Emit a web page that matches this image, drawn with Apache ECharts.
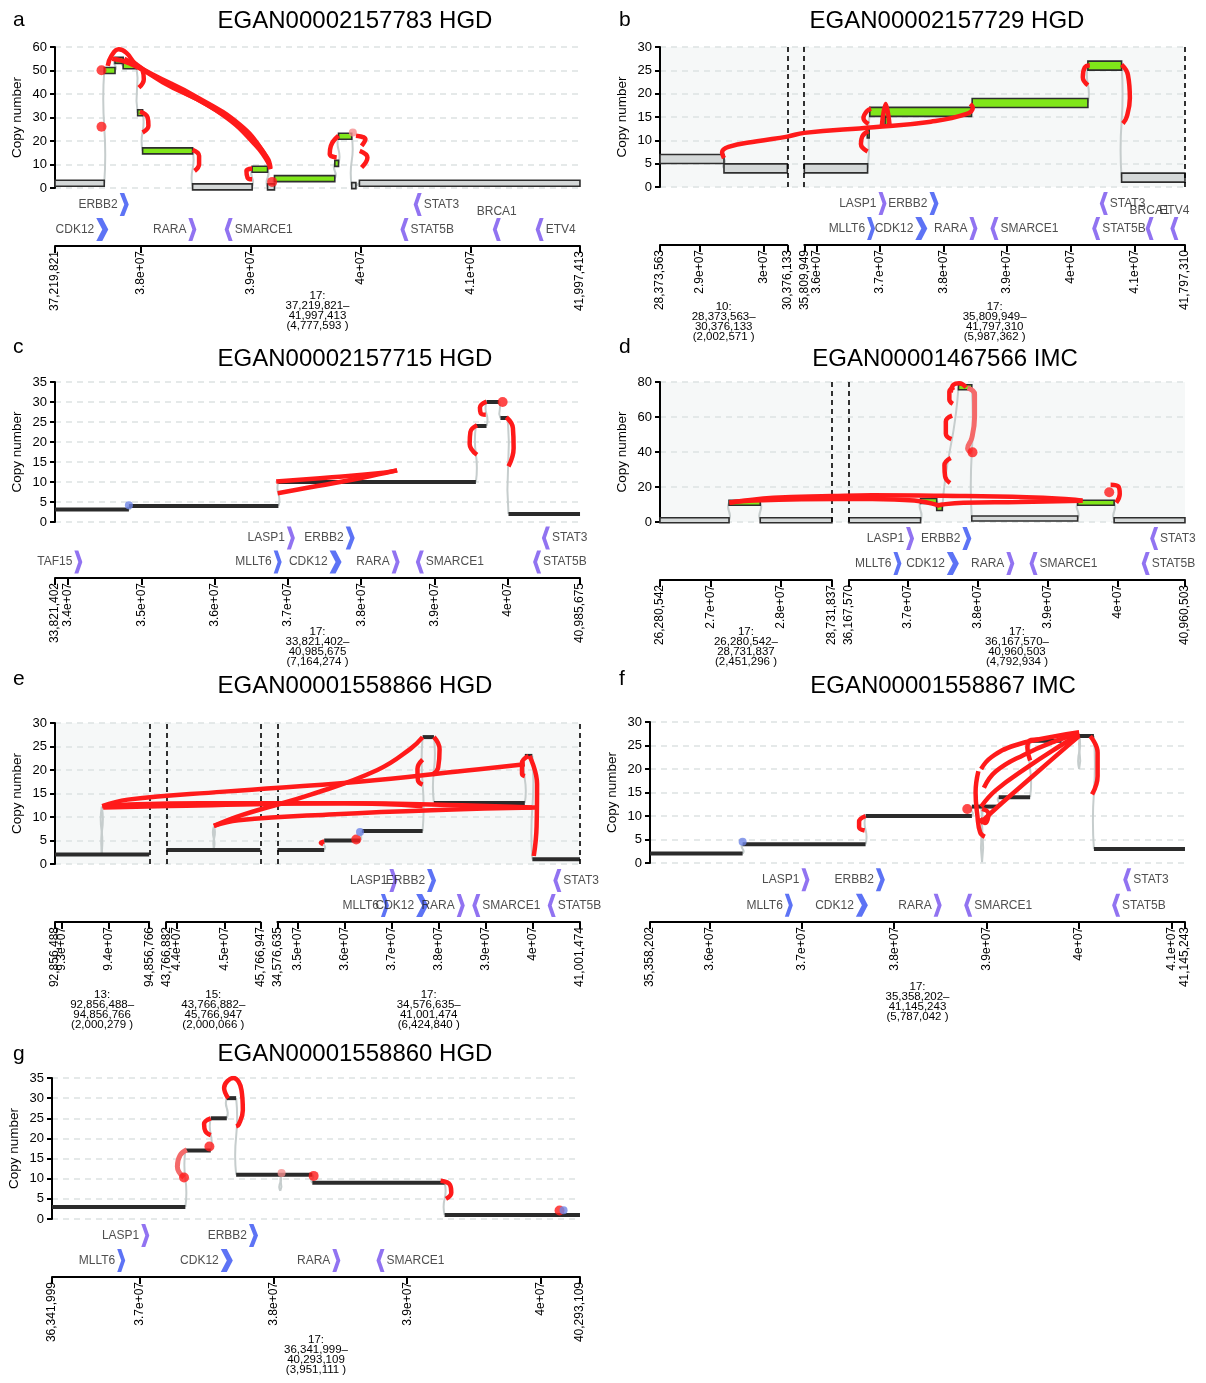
<!DOCTYPE html>
<html>
<head>
<meta charset="utf-8">
<script src="https://cdn.jsdelivr.net/npm/echarts@6/dist/echarts.min.js"></script>
<style>html,body{margin:0;background:#fff}#chart{width:1206px;height:1383px}</style>
</head>
<body>
<div id="chart"></div>
<script>
// genes on chr17 (Mb), strand and track row
const geneNames  = ['TAF15', 'MLLT6', 'LASP1', 'CDK12', 'ERBB2', 'RARA', 'SMARCE1', 'STAT5B', 'STAT3', 'BRCA1', 'ETV4'];
const geneMb     = [34.14, 36.86, 37.04, 37.65, 37.85, 38.47, 38.80, 40.40, 40.52, 41.24, 41.63];
const geneStrand = ['+', '+', '+', '+', '+', '+', '-', '-', '-', '-', '-'];
const geneRow    = [0, 0, 1, 0, 1, 0, 0, 0, 1, 0, 0];

// ---- a ----
const aRegions = [['17', 37219821, 41997413]];
const aTicks = [[37219821, 38e6, 39e6, 40e6, 41e6, 41997413]];
const aSegs = [[37.22, 37.668, 2], [37.668, 37.766, 50], [37.766, 37.84, 54.3], [37.84, 37.96, 52], [37.972, 38.017, 32],
  [38.017, 38.472, 15.8], [38.472, 39.014, 0.5], [39.014, 39.154, 8], [39.154, 39.217, 0.5], [39.217, 39.766, 4],
  [39.766, 39.80, 10.5], [39.80, 39.92, 22], [39.92, 39.958, 1], [39.99, 41.997, 2]];
const aSvs = [
  [[37.70, 52], [37.73, 56], [37.80, 59], [37.87, 57.5], [37.95, 53], [38.2, 45], [38.6, 35.5], [38.95, 24], [39.15, 13], [39.18, 8.5]],
  [[37.74, 55], [37.9, 53], [38.3, 43], [38.75, 31], [39.05, 18], [39.17, 10]],
  [[37.85, 55], [38.1, 48.5], [38.5, 39], [38.9, 27], [39.12, 15], [39.18, 8]],
  [[37.965, 52], [38.017, 50], [38.028, 46.3], [37.983, 42.7]],
  [[37.993, 32.5], [38.063, 30], [38.07, 26.5], [38.017, 23.6]],
  [[38.472, 16.2], [38.531, 13.7], [38.531, 10.1], [38.49, 7.3]],
  [[39.014, 8.3], [38.962, 7.3], [38.972, 4.4], [39.014, 3.7]],
  [[39.80, 22.2], [39.73, 17.9], [39.72, 14.4], [39.783, 13]],
  [[39.958, 22.2], [40.045, 20.8], [40.01, 17.9]],
  [[39.993, 15.8], [40.063, 13], [40.01, 8.7]]];
const aDots = [[37.643, 50.1], [37.643, 26.1], [39.196, 2.6]];
const aPinks = [[39.93, 23.6]];
const aGenes = ['ERBB2', 'STAT3', 'CDK12', 'RARA', 'SMARCE1', 'STAT5B', 'BRCA1', 'ETV4'];
const aTopLabels = ['BRCA1'];

// ---- b ----
const bRegions = [['10', 28373563, 30376133], ['17', 35809949, 41797310]];
const bTicks = [[28373563, 29e6, 30e6, 30376133], [35809949, 36e6, 37e6, 38e6, 39e6, 40e6, 41e6, 41797310]];
const bSegs = [[0, 28.374, 29.38, 6], [0, 29.38, 30.376, 4], [1, 35.81, 36.805, 4], [1, 36.84, 38.44, 16.1],
  [1, 38.45, 40.27, 18], [1, 40.27, 40.80, 26], [1, 40.80, 41.797, 2], [1, 37.08, 37.12, 14], [1, 36.80, 36.83, 11.5]];
const bSvs = [
  [[0, 29.38, 6.2], [0, 29.35, 7.4], [0, 29.45, 8.6], [0, 29.9, 9.8], [0, 30.376, 10.8], [1, 35.81, 11.6], [1, 36.9, 12.8], [1, 37.8, 14.0], [1, 38.35, 15.6], [1, 38.46, 17.0], [1, 38.42, 17.8]],
  [[1, 36.805, 7.6], [1, 36.70, 9.2], [1, 36.72, 10.8], [1, 36.82, 12.0]],
  [[1, 36.82, 13.5], [1, 36.74, 14.8], [1, 36.79, 16.2], [1, 36.86, 16.8]],
  [[1, 37.03, 13.2], [1, 37.09, 17.8], [1, 37.15, 13.4]],
  [[1, 40.80, 26.2], [1, 40.90, 24], [1, 40.93, 19], [1, 40.88, 15], [1, 40.82, 13.6]],
  [[1, 40.27, 21.8], [1, 40.19, 23.5], [1, 40.22, 25.6], [1, 40.30, 26.1]]];
const bGenes = ['LASP1', 'ERBB2', 'STAT3', 'MLLT6', 'CDK12', 'RARA', 'SMARCE1', 'STAT5B', 'BRCA1', 'ETV4'];
const bTopLabels = ['BRCA1', 'ETV4'];

// ---- c ----
const cRegions = [['17', 33821402, 40985675]];
const cTicks = [[33821402, 34e6, 35e6, 36e6, 37e6, 38e6, 39e6, 40e6, 40985675]];
const cSegs = [[33.82, 34.83, 3.1], [34.83, 36.87, 4], [36.87, 39.565, 10], [39.565, 39.71, 24], [39.71, 39.88, 30],
  [39.9, 40.0, 26], [40.01, 40.986, 2]];
const cSvs = [
  [[36.84, 10.1], [37.6, 11.2], [38.2, 12.1], [38.49, 12.9]],
  [[38.49, 12.9], [38.0, 11.0], [37.4, 9.0], [36.86, 7.2]],
  [[39.58, 24.2], [39.49, 22.5], [39.48, 19.5], [39.58, 16.8]],
  [[39.71, 30.1], [39.62, 28.6], [39.63, 27.2], [39.70, 26.8]],
  [[39.98, 26.2], [40.07, 23.5], [40.08, 18.5], [40.01, 13.9]]];
const cDots = [[39.93, 30]];
const cBlues = [[34.83, 4.2]];
const cGenes = ['LASP1', 'ERBB2', 'STAT3', 'TAF15', 'MLLT6', 'CDK12', 'RARA', 'SMARCE1', 'STAT5B'];

// ---- d ----
const dRegions = [['17', 26280542, 28731837], ['17', 36167570, 40960503]];
const dTicks = [[26280542, 27e6, 28e6, 28731837], [36167570, 37e6, 38e6, 39e6, 40e6, 40960503]];
const dSegs = [[0, 26.28, 27.265, 1], [0, 27.265, 27.71, 11], [0, 27.71, 28.732, 1], [1, 36.168, 37.19, 1],
  [1, 37.19, 37.42, 12], [1, 37.42, 37.5, 8], [1, 37.73, 37.92, 77], [1, 37.92, 39.43, 2], [1, 39.43, 39.95, 11],
  [1, 39.95, 40.96, 1]];
const dSvs = [
  [[0, 27.27, 11], [0, 27.9, 13.8], [0, 28.73, 14.8], [1, 36.5, 15.3], [1, 37.5, 15.0], [1, 38.7, 14.2], [1, 39.3, 13.0], [1, 39.5, 12.2]],
  [[1, 39.5, 12.2], [1, 38.6, 11.4], [1, 37.8, 11.0], [1, 37.5, 10.0], [1, 37.42, 9.2]],
  [[1, 37.45, 9.5], [1, 37.1, 12.3], [1, 36.5, 13.2], [0, 28.3, 13.0], [0, 27.5, 12.0], [0, 27.27, 11.2]],
  [[1, 37.67, 77], [1, 37.60, 74.5], [1, 37.60, 70], [1, 37.65, 67.5]],
  [[1, 37.62, 74], [1, 37.66, 78.5], [1, 37.74, 79.3], [1, 37.84, 77]],
  [[1, 37.64, 60.8], [1, 37.55, 57.5], [1, 37.55, 50.5], [1, 37.63, 47.4]],
  [[1, 37.62, 36.6], [1, 37.53, 32.5], [1, 37.54, 26], [1, 37.61, 22.3]],
  [[1, 39.90, 21.3], [1, 40.01, 20.3], [1, 40.03, 16], [1, 39.98, 11]]];
const dSoft = [[[1, 37.86, 76.6], [1, 37.96, 73], [1, 37.96, 60], [1, 37.92, 48], [1, 37.86, 42], [1, 37.92, 39.8]]];
const dDots = [[1, 37.93, 39.8], [1, 39.88, 17]];
const dGenes = ['LASP1', 'ERBB2', 'STAT3', 'MLLT6', 'CDK12', 'RARA', 'SMARCE1', 'STAT5B'];

// ---- e ----
const eRegions = [['13', 92856488, 94856766], ['15', 43766882, 45766947], ['17', 34576635, 41001474]];
const eTicks = [[92856488, 93e6, 94e6, 94856766], [43766882, 44e6, 45e6, 45766947], [34576635, 35e6, 36e6, 37e6, 38e6, 39e6, 40e6, 41001474]];
const eSegs = [[0, 92.856, 94.857, 2], [1, 43.767, 45.767, 3], [2, 34.577, 35.57, 3], [2, 35.57, 36.33, 5],
  [2, 36.37, 37.66, 7], [2, 37.66, 37.9, 27], [2, 37.9, 39.83, 13], [2, 39.83, 39.99, 23], [2, 39.99, 41.001, 1]];
const eLinks = [[0, 93.84, 2, 93.85, 12.2], [0, 93.85, 12.2, 93.86, 2], [1, 44.77, 3, 44.78, 8], [1, 44.78, 8, 44.79, 3]];
const eSvs = [
  [[0, 93.86, 12.3], [0, 94.6, 12.7], [1, 44.5, 12.9], [2, 36.0, 12.9], [2, 38.5, 12.5], [2, 39.98, 12.0]],
  [[0, 93.86, 12.3], [0, 94.4, 13.7], [1, 45.0, 15.4], [2, 36.3, 17.5], [2, 38.6, 19.9], [2, 39.83, 21.2]],
  [[0, 93.88, 12.0], [1, 44.2, 12.4], [2, 36.0, 12.9], [2, 37.66, 12.3]],
  [[1, 44.78, 8.1], [1, 45.4, 10.5], [2, 35.3, 14.8], [2, 36.7, 20.0], [2, 37.4, 24.5], [2, 37.66, 27.0]],
  [[1, 44.78, 8.1], [1, 45.3, 9.3], [2, 35.8, 10.6], [2, 38.0, 11.5], [2, 40.05, 12.0]],
  [[2, 37.9, 27.0], [2, 38.02, 24.4], [2, 37.99, 20.5], [2, 37.87, 19.0]],
  [[2, 37.66, 22.2], [2, 37.55, 20.2], [2, 37.56, 17.8], [2, 37.66, 16.9]],
  [[2, 39.91, 23.0], [2, 39.77, 21.5], [2, 39.77, 19.2], [2, 39.83, 18.7]],
  [[2, 39.93, 23.0], [2, 40.09, 17], [2, 40.08, 8], [2, 40.02, 1.7]],
  [[2, 35.57, 4.8], [2, 35.50, 4.5], [2, 35.55, 4.2]]];
const eDots = [[2, 36.25, 5.2]];
const eBlues = [[2, 36.33, 6.8]];
const eGenes = ['LASP1', 'ERBB2', 'STAT3', 'MLLT6', 'CDK12', 'RARA', 'SMARCE1', 'STAT5B'];

// ---- f ----
const fRegions = [['17', 35358202, 41145243]];
const fTicks = [[35358202, 36e6, 37e6, 38e6, 39e6, 40e6, 41e6, 41145243]];
const fSegs = [[35.358, 36.36, 2], [36.36, 37.69, 4], [37.69, 38.84, 10], [38.84, 38.94, 12], [38.94, 39.13, 12],
  [39.13, 39.47, 14], [39.47, 39.81, 26], [39.81, 40.16, 27], [40.16, 41.145, 3]];
const fLinks = [[0, 38.94, 12, 38.95, 0.2], [0, 38.95, 0.2, 38.96, 12], [0, 40.0, 27, 40.0, 20], [0, 40.0, 20, 40.01, 27]];
const fSvs = [
  [[37.69, 10], [37.62, 8.8], [37.62, 7.6], [37.68, 6.9]],
  [[38.94, 20], [39.05, 22.5], [39.3, 25], [39.7, 26.8], [40.0, 27.8]],
  [[38.97, 16], [39.1, 19.5], [39.4, 23], [39.75, 26], [40.0, 27.6]],
  [[38.94, 12], [39.1, 15.5], [39.45, 20.5], [39.8, 25], [40.0, 27.4]],
  [[38.93, 8.5], [39.15, 12.5], [39.5, 18.5], [39.85, 24.5], [40.0, 27.0]],
  [[39.47, 21.8], [39.44, 24.5], [39.48, 26.2], [39.56, 26.3]],
  [[38.91, 19.5], [38.88, 15], [38.90, 10], [38.93, 6.5], [38.98, 5.6]],
  [[38.95, 11.5], [39.02, 10.5], [38.98, 8.5], [38.93, 9.5]],
  [[40.12, 27], [40.20, 23.5], [40.20, 18.5], [40.14, 14.6]]];
const fDots = [[38.79, 11.5]];
const fBlues = [[36.36, 4.5]];
const fGenes = ['LASP1', 'ERBB2', 'STAT3', 'MLLT6', 'CDK12', 'RARA', 'SMARCE1', 'STAT5B'];

// ---- g ----
const gRegions = [['17', 36341999, 40293109]];
const gTicks = [[36341999, 37e6, 38e6, 39e6, 40e6, 40293109]];
const gSegs = [[36.342, 37.34, 3], [37.34, 37.53, 17], [37.53, 37.65, 25], [37.65, 37.72, 30], [37.72, 38.29, 11],
  [38.29, 39.28, 9], [39.28, 40.293, 1]];
const gLinks = [[0, 38.05, 11, 38.05, 7], [0, 38.05, 7, 38.06, 11]];
const gSvs = [
  [[37.53, 25], [37.48, 23.6], [37.49, 21.8], [37.53, 20.8]],
  [[37.66, 30], [37.63, 32.5], [37.70, 35], [37.76, 32], [37.77, 27], [37.74, 23.5], [37.72, 23]],
  [[39.25, 9.5], [39.32, 8.5], [39.33, 6.5], [39.29, 5]]];
const gSoft = [[[37.33, 10.3], [37.28, 13.0], [37.30, 15.8], [37.35, 17.2]]];
const gDots = [[37.33, 10.3], [37.52, 18], [38.3, 10.7], [40.14, 2.1]];
const gPinks = [[38.06, 11.4]];
const gBlues = [[40.17, 2.2]];
const gGenes = ['LASP1', 'ERBB2', 'MLLT6', 'CDK12', 'RARA', 'SMARCE1'];

const panels = [
  {id: 'a', title: 'EGAN00002157783 HGD', regions: aRegions, ticks: aTicks, segs: aSegs, svs: aSvs, dots: aDots, pinks: aPinks, genes: aGenes, topLabels: aTopLabels},
  {id: 'b', title: 'EGAN00002157729 HGD', regions: bRegions, ticks: bTicks, segs: bSegs, svs: bSvs, genes: bGenes, topLabels: bTopLabels},
  {id: 'c', title: 'EGAN00002157715 HGD', regions: cRegions, ticks: cTicks, segs: cSegs, svs: cSvs, dots: cDots, blues: cBlues, genes: cGenes},
  {id: 'd', title: 'EGAN00001467566 IMC', regions: dRegions, ticks: dTicks, segs: dSegs, svs: dSvs, soft: dSoft, dots: dDots, genes: dGenes},
  {id: 'e', title: 'EGAN00001558866 HGD', regions: eRegions, ticks: eTicks, segs: eSegs, links: eLinks, svs: eSvs, dots: eDots, blues: eBlues, genes: eGenes},
  {id: 'f', title: 'EGAN00001558867 IMC', regions: fRegions, ticks: fTicks, segs: fSegs, links: fLinks, svs: fSvs, dots: fDots, blues: fBlues, genes: fGenes},
  {id: 'g', title: 'EGAN00001558860 HGD', regions: gRegions, ticks: gTicks, segs: gSegs, links: gLinks, svs: gSvs, soft: gSoft, dots: gDots, pinks: gPinks, blues: gBlues, genes: gGenes}
];

// layout (pixels)
const layout = {
  a: {x0: 55, x1: 580, top: 47, bot: 188, axisY: 246, ymax: 60, yint: 10, tx: 350, ty: 20, lx: 13, ly: 18, boxed: true, barH: 6, greenAt: 3, nameGap: 45},
  b: {x0: 660, x1: 1185, top: 47, bot: 187, axisY: 245, ymax: 30, yint: 5, tx: 942, ty: 20, lx: 619, ly: 18, boxed: true, barH: 9, greenAt: 10, nameGap: 57},
  c: {x0: 55, x1: 580, top: 382, bot: 522, axisY: 578, ymax: 35, yint: 5, tx: 350, ty: 358, lx: 13, ly: 345, barH: 4, nameGap: 49},
  d: {x0: 660, x1: 1185, top: 382, bot: 522, axisY: 580, ymax: 80, yint: 20, tx: 940, ty: 358, lx: 619, ly: 345, boxed: true, barH: 5, greenAt: 5, nameGap: 47},
  e: {x0: 55, x1: 580, top: 723, bot: 864, axisY: 922, ymax: 30, yint: 5, tx: 350, ty: 685, lx: 13, ly: 677, barH: 4, nameGap: 68},
  f: {x0: 650, x1: 1185, top: 722, bot: 863, axisY: 922, ymax: 30, yint: 5, tx: 938, ty: 685, lx: 619, ly: 677, barH: 4, nameGap: 60},
  g: {x0: 52, x1: 580, top: 1078, bot: 1219, axisY: 1277, ymax: 35, yint: 5, tx: 350, ty: 1053, lx: 13, ly: 1052, barH: 4, nameGap: 58}
};

const GAP = 17;
const RED = '#ff1a1a', SOFT = '#f46a6a', PINK = '#f59090', BLUE = '#6f86e6';
const GREEN = '#80e61a', LIGHT = '#d4d8d8';
const BLUE_GENES = ['MLLT6', 'CDK12', 'ERBB2'];
const CHEV_R = 'path://M0,0L5,0L10,10L5,20L0,20L5,10Z';
const CHEV_L = 'path://M10,0L5,0L0,10L5,20L10,20L5,10Z';

const fmt = v => v.toLocaleString('en-US');
const sci = v => String(+(v / 1e7).toFixed(2)) + 'e+07';

const option = {
  animation: false,
  backgroundColor: '#fff',
  textStyle: {fontFamily: '"Liberation Sans", Arial, sans-serif'},
  title: [], grid: [], xAxis: [], yAxis: [], series: []
};

panels.forEach(p => {
  const L = layout[p.id];
  const W = L.x1 - L.x0;
  const lens = p.regions.map(r => (r[2] - r[1]) / 1e6);
  const ppm = (W - GAP * (lens.length - 1)) / lens.reduce((s, v) => s + v, 0);
  const gapMb = GAP / ppm;
  const off = [];
  let cur = p.regions[0][1] / 1e6;
  p.regions.forEach((r, i) => { off.push(cur - r[1] / 1e6); cur += lens[i] + gapMb; });
  const X = (s, mb) => mb + off[s];
  const last = p.regions.length - 1;
  const xmin = X(0, p.regions[0][1] / 1e6);
  const xmax = X(last, p.regions[last][2] / 1e6);
  const pt = q => q.length === 3 ? [X(q[0], q[1]), q[2]] : [X(0, q[0]), q[1]];
  const sg = q => q.length === 4 ? q : [0, q[0], q[1], q[2]];

  option.title.push({text: p.title, left: L.tx, top: L.ty - 16, textAlign: 'center',
    textStyle: {fontSize: 24, fontWeight: 'normal', color: '#000'}});
  option.title.push({text: p.id, left: L.lx - 5, top: L.ly - 13,
    textStyle: {fontSize: 21, fontWeight: 'normal', color: '#000'}});

  // copy number plot
  const gi = option.grid.length;
  option.grid.push({left: L.x0, top: L.top, width: W, height: L.bot - L.top,
    show: lens.length > 1, backgroundColor: '#f6f8f8', borderWidth: 0});
  option.xAxis.push({gridIndex: gi, type: 'value', min: xmin, max: xmax, show: false});
  option.yAxis.push({gridIndex: gi, type: 'value', min: 0, max: L.ymax, interval: L.yint,
    name: 'Copy number', nameLocation: 'middle', nameGap: 31,
    nameTextStyle: {fontSize: 13.5, color: '#000'},
    axisLine: {show: true, lineStyle: {color: '#000', width: 2}},
    axisTick: {show: true, length: 5, lineStyle: {color: '#000', width: 2}},
    axisLabel: {fontSize: 13, color: '#000', margin: 8},
    splitLine: {show: true, lineStyle: {type: [6, 5], color: '#dde2e2', width: 1.5}}});
  const ax = {xAxisIndex: gi, yAxisIndex: gi};

  const S = p.segs.map(sg);
  const links = [];
  for (let i = 1; i < S.length; i++) {
    const a = S[i - 1], b = S[i];
    if (a[0] === b[0] && b[1] >= a[2] - 0.02) links.push([X(a[0], a[2]), a[3], X(b[0], b[1]), b[3]]);
  }
  (p.links || []).forEach(q => links.push([X(q[0], q[1]), q[2], X(q[0], q[3]), q[4]]));

  option.series.push({type: 'custom', ...ax, z: 2, silent: true, data: links,
    encode: {x: [0, 2], y: [1, 3]},
    renderItem: (params, api) => {
      const a = api.coord([api.value(0), api.value(1)]);
      const b = api.coord([api.value(2), api.value(3)]);
      const my = (a[1] + b[1]) / 2;
      return {type: 'bezierCurve',
        shape: {x1: a[0], y1: a[1], x2: b[0], y2: b[1], cpx1: a[0] + 4, cpy1: my, cpx2: b[0] - 4, cpy2: my},
        style: {stroke: '#c6cdcd', lineWidth: 2, fill: null}};
    }});

  option.series.push({type: 'custom', ...ax, z: 3, silent: true,
    data: S.map(q => [X(q[0], q[1]), X(q[0], q[2]), q[3]]),
    encode: {x: [0, 1], y: 2},
    renderItem: (params, api) => {
      const a = api.coord([api.value(0), api.value(2)]);
      const b = api.coord([api.value(1), api.value(2)]);
      const h = L.barH;
      const shape = {x: a[0], y: a[1] - h / 2, width: Math.max(b[0] - a[0], 1.5), height: h};
      if (L.boxed) {
        return {type: 'rect', shape,
          style: {fill: api.value(2) >= L.greenAt ? GREEN : LIGHT, stroke: '#2e2e2e', lineWidth: 1.6}};
      }
      return {type: 'rect', shape, style: {fill: '#2b2b2b'}};
    }});

  (p.svs || []).forEach(sv => option.series.push({type: 'line', ...ax, z: 5, silent: true,
    data: sv.map(pt), smooth: 0.45, symbol: 'none', lineStyle: {color: RED, width: 4.5}}));
  (p.soft || []).forEach(sv => option.series.push({type: 'line', ...ax, z: 5, silent: true,
    data: sv.map(pt), smooth: 0.45, symbol: 'none', lineStyle: {color: SOFT, width: 5}}));

  [[p.dots, RED, 10], [p.pinks, PINK, 8], [p.blues, BLUE, 8]].forEach(([d, c, sz]) => {
    if (d) option.series.push({type: 'scatter', ...ax, z: 6, silent: true, data: d.map(pt),
      symbolSize: sz, itemStyle: {color: c}});
  });

  if (lens.length > 1) {
    const bounds = [];
    p.regions.forEach((r, i) => { if (i > 0) bounds.push(X(i, r[1] / 1e6)); bounds.push(X(i, r[2] / 1e6)); });
    option.series.push({type: 'line', ...ax, data: [], z: 4,
      markLine: {silent: true, symbol: ['none', 'none'], label: {show: false},
        lineStyle: {type: [5, 4], color: '#000', width: 1.6},
        data: bounds.map(v => ({xAxis: v}))}});
  }

  // gene track
  const gg = option.grid.length;
  option.grid.push({left: L.x0, top: L.bot + 4, width: W, height: L.axisY - L.bot - 8});
  option.xAxis.push({gridIndex: gg, type: 'value', min: xmin, max: xmax, show: false});
  option.yAxis.push({gridIndex: gg, type: 'value', min: 0, max: 2, show: false});
  option.series.push({type: 'scatter', xAxisIndex: gg, yAxisIndex: gg, silent: true,
    data: p.genes.map(name => {
      const i = geneNames.indexOf(name);
      const plus = geneStrand[i] === '+';
      const w = name === 'CDK12' ? 12 : (name === 'ERBB2' ? 9 : 8);
      const top = (p.topLabels || []).includes(name);
      return {value: [X(last, geneMb[i]), geneRow[i] + 0.5],
        symbol: plus ? CHEV_R : CHEV_L, symbolSize: [w, 23],
        itemStyle: {color: BLUE_GENES.includes(name) ? '#3550f2' : '#7650ee'},
        label: {show: true, formatter: name, position: top ? 'top' : (plus ? 'left' : 'right'),
          distance: top ? 0 : 2, fontSize: 12, color: '#222'}};
    })});

  // genomic axes, one grid per region: region ends on one axis, round ticks on another
  p.regions.forEach((r, i) => {
    const ai = option.grid.length;
    const left = L.x0 + (X(i, r[1] / 1e6) - xmin) * ppm;
    option.grid.push({left: left, top: L.axisY - 10, width: lens[i] * ppm, height: 10});
    const ends = [r[1], r[2]];
    const inner = p.ticks[i].filter(v => v !== r[1] && v !== r[2]);
    [ends, inner].forEach((vals, k) => {
      option.xAxis.push({gridIndex: ai, type: 'value', min: r[1], max: r[2], position: 'bottom', offset: 0,
        name: k === 0 ? `${r[0]}:\n${fmt(r[1])}–\n${fmt(r[2])}\n(${fmt(r[2] - r[1] + 1)} )` : '',
        nameLocation: 'middle', nameGap: L.nameGap, nameMoveOverlap: false,
        nameTextStyle: {fontSize: 11.5, lineHeight: 10, color: '#000', align: 'center', verticalAlign: 'top'},
        axisLine: {show: k === 0, lineStyle: {color: '#000', width: 2}},
        axisTick: {show: true, length: 7, customValues: vals, lineStyle: {color: '#000', width: 2}},
        axisLabel: {show: true, customValues: vals, rotate: 90, fontSize: 12, color: '#000', margin: 5,
          showMinLabel: true, showMaxLabel: true, hideOverlap: false,
          formatter: v => k === 0 ? fmt(v) : sci(v)},
        splitLine: {show: false}});
    });
    option.yAxis.push({gridIndex: ai, type: 'value', show: false});
  });
});

// xAxis list is no longer one-per-grid, so wire series to axes by grid
const axisOfGrid = [];
option.xAxis.forEach((a, idx) => { if (axisOfGrid[a.gridIndex] === undefined) axisOfGrid[a.gridIndex] = idx; });
option.series.forEach(s => { s.xAxisIndex = axisOfGrid[s.xAxisIndex]; });

const chart = echarts.init(document.getElementById('chart'), null, {renderer: 'canvas'});
chart.setOption(option);
</script>
</body>
</html>
